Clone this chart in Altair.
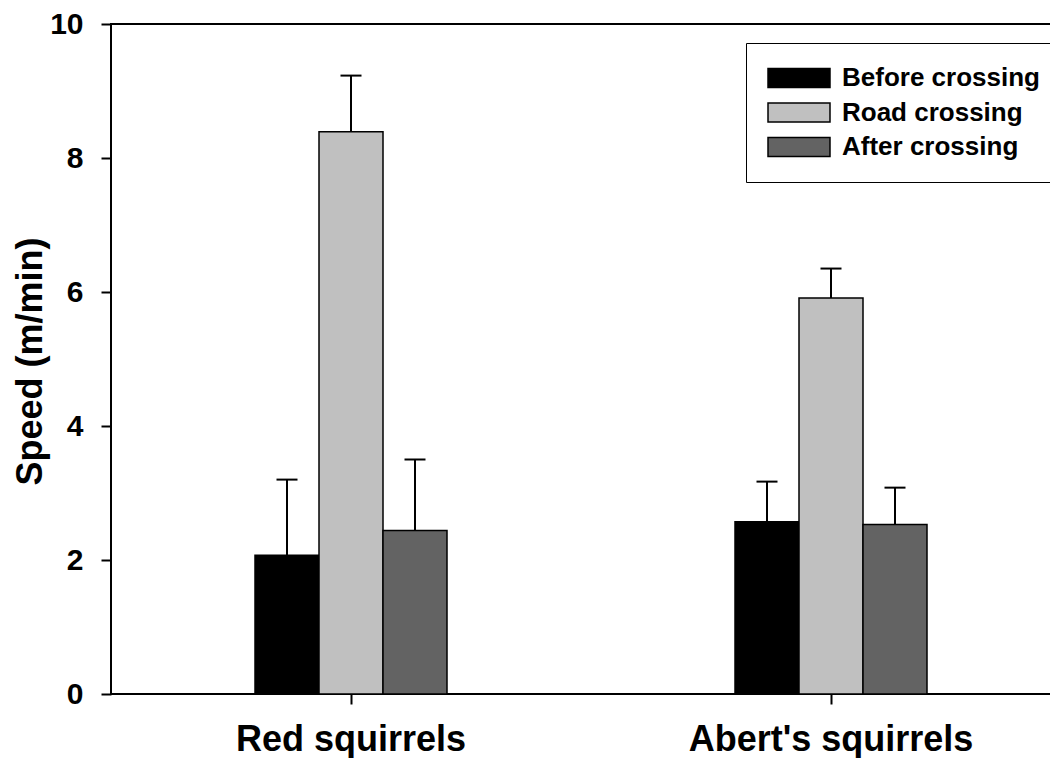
import altair as alt
import pandas as pd

species = ["Red squirrels", "Abert's squirrels"]
phases = ["Before crossing", "Road crossing", "After crossing"]
colors = ["#000000", "#c0c0c0", "#636363"]

red_mean = [2.07, 8.39, 2.44]
red_upper = [3.20, 9.23, 3.50]
abert_mean = [2.57, 5.91, 2.53]
abert_upper = [3.17, 6.35, 3.08]

y_ticks = [0, 2, 4, 6, 8, 10]

rows = []
for sp, means, uppers in [(species[0], red_mean, red_upper), (species[1], abert_mean, abert_upper)]:
    for ph, m, u in zip(phases, means, uppers):
        rows.append({"species": sp, "phase": ph, "mean": m, "upper": u})
df = pd.DataFrame(rows)

FONT = "Liberation Sans"

x_scale = alt.Scale(paddingInner=0.6, paddingOuter=0.3)
x_enc = alt.X(
    "species:N",
    sort=species,
    scale=x_scale,
    axis=alt.Axis(
        title=None, labelAngle=0, labelFont=FONT, labelFontSize=36, labelFontWeight="bold",
        labelColor="black", labelPadding=18, labelLimit=600, tickSize=10, tickWidth=2,
        tickColor="black", domain=False, grid=False,
    ),
)
xoff_scale = alt.Scale(paddingInner=0, paddingOuter=0)
y_scale = alt.Scale(domain=[0, 10], nice=False)

base = alt.Chart(df)

bars = base.mark_bar(stroke="black", strokeWidth=1.5, opacity=1).encode(
    x=x_enc,
    xOffset=alt.XOffset("phase:N", sort=phases, scale=xoff_scale),
    y=alt.Y(
        "mean:Q",
        scale=y_scale,
        axis=alt.Axis(
            title="Speed (m/min)", values=y_ticks, format="d",
            labelFont=FONT, labelFontSize=30, labelFontWeight="bold", labelColor="black",
            labelPadding=18, tickSize=10, tickWidth=2, tickColor="black",
            domain=False, grid=False,
            titleFont=FONT, titleFontSize=36, titleFontWeight="bold", titleColor="black",
            titleX=-81, titleY=337, titleAngle=-90, titleAlign="center", titleBaseline="middle",
        ),
    ),
    color=alt.Color(
        "phase:N",
        sort=phases,
        scale=alt.Scale(domain=phases, range=colors),
        legend=alt.Legend(
            title=None, orient="none", legendX=635, legendY=19,
            strokeColor="black", fillColor="white", padding=22,
            symbolType="M-2.583,-0.79H2.583V0.79H-2.583Z", symbolSize=576, symbolOffset=18,
            symbolStrokeColor="black", symbolStrokeWidth=1.5, symbolOpacity=1,
            labelFont=FONT, labelFontSize=26, labelFontWeight="bold", labelColor="black",
            labelOffset=30, rowPadding=8.5, labelLimit=400,
        ),
    ),
)

whiskers = base.mark_rule(color="black", strokeWidth=2).encode(
    x=alt.X("species:N", sort=species),
    xOffset=alt.XOffset("phase:N", sort=phases),
    y=alt.Y("mean:Q", scale=y_scale),
    y2="upper:Q",
)

caps = base.mark_tick(color="black", thickness=2, size=21, opacity=1).encode(
    x=alt.X("species:N", sort=species),
    xOffset=alt.XOffset("phase:N", sort=phases),
    y=alt.Y("upper:Q", scale=y_scale),
)

chart = alt.layer(bars, whiskers, caps).properties(
    width=960,
    height=670,
    autosize=alt.AutoSizeParams(type="none"),
    padding={"left": 103, "top": 16, "right": -21, "bottom": 64},
    background="white",
).configure_view(stroke="black", strokeWidth=2)

chart.save("out.html", embed_options={"renderer": "svg", "actions": False})
